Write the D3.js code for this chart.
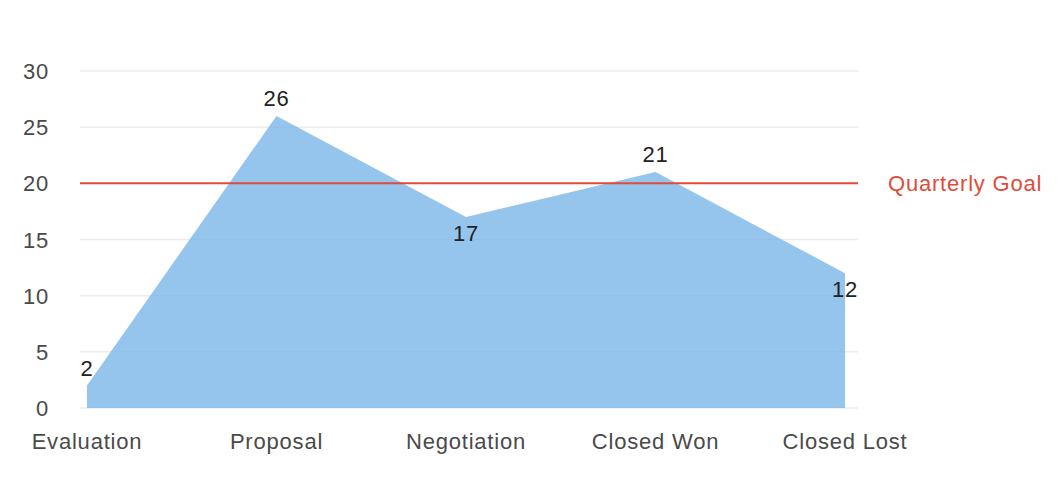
<!DOCTYPE html>
<html>
<head>
<meta charset="utf-8">
<script src="https://cdn.jsdelivr.net/npm/d3@7"></script>
<style>
  body { margin: 0; background: #fff; }
  svg { font-family: "Liberation Sans", Arial, Helvetica, sans-serif; letter-spacing: 0.8px; }
</style>
</head>
<body>
<svg id="chart" width="1064" height="486"></svg>
<script>
// data //
const stages = ['Evaluation', 'Proposal', 'Negotiation', 'Closed Won', 'Closed Lost']
const deals = [2, 26, 17, 21, 12]
const labelSide = ['above', 'above', 'below', 'above', 'below']
const yTicks = [0, 5, 10, 15, 20, 25, 30]
const goalValue = 20
const goalLabel = 'Quarterly Goal'

const svg = d3.select('#chart')

// scales //
const xScale = d3.scalePoint()
    .domain(stages)
    .range([87, 845])

const yScale = d3.scaleLinear()
    .domain([0, 30])
    .range([408, 71])

// grid //
svg.append('g')
    .selectAll('line')
    .data(yTicks)
    .join('line')
    .attr('x1', 80)
    .attr('x2', 858)
    .attr('y1', d => yScale(d))
    .attr('y2', d => yScale(d))
    .attr('stroke', '#ececec')
    .attr('stroke-width', 1.5)

// y axis labels
svg.append('g')
    .selectAll('text')
    .data(yTicks)
    .join('text')
    .attr('x', 49)
    .attr('y', d => yScale(d) + 8)
    .attr('text-anchor', 'end')
    .attr('font-size', 22)
    .attr('fill', '#4a4a4a')
    .text(d => d)

// x axis labels
svg.append('g')
    .selectAll('text')
    .data(stages)
    .join('text')
    .attr('x', d => xScale(d))
    .attr('y', 449)
    .attr('text-anchor', 'middle')
    .attr('font-size', 22)
    .attr('fill', '#4a4a4a')
    .text(d => d)

// area //
const area = d3.area()
    .x((d, i) => xScale(stages[i]))
    .y0(yScale(0))
    .y1(d => yScale(d))

svg.append('path')
    .attr('d', area(deals))
    .attr('fill', '#7ab6e8')
    .attr('fill-opacity', 0.8)

// goal line //
svg.append('line')
    .attr('x1', 80)
    .attr('x2', 858)
    .attr('y1', yScale(goalValue))
    .attr('y2', yScale(goalValue))
    .attr('stroke', '#e04b3a')
    .attr('stroke-width', 2)

svg.append('text')
    .attr('x', 888)
    .attr('y', yScale(goalValue) + 8)
    .attr('font-size', 22)
    .attr('fill', '#e04b3a')
    .text(goalLabel)

// value labels
svg.append('g')
    .selectAll('text')
    .data(deals)
    .join('text')
    .attr('x', (d, i) => xScale(stages[i]))
    .attr('y', (d, i) => yScale(d) + (labelSide[i] === 'above' ? -10 : 24))
    .attr('text-anchor', 'middle')
    .attr('font-size', 22)
    .attr('fill', '#222')
    .text(d => d)
</script>
</body>
</html>
